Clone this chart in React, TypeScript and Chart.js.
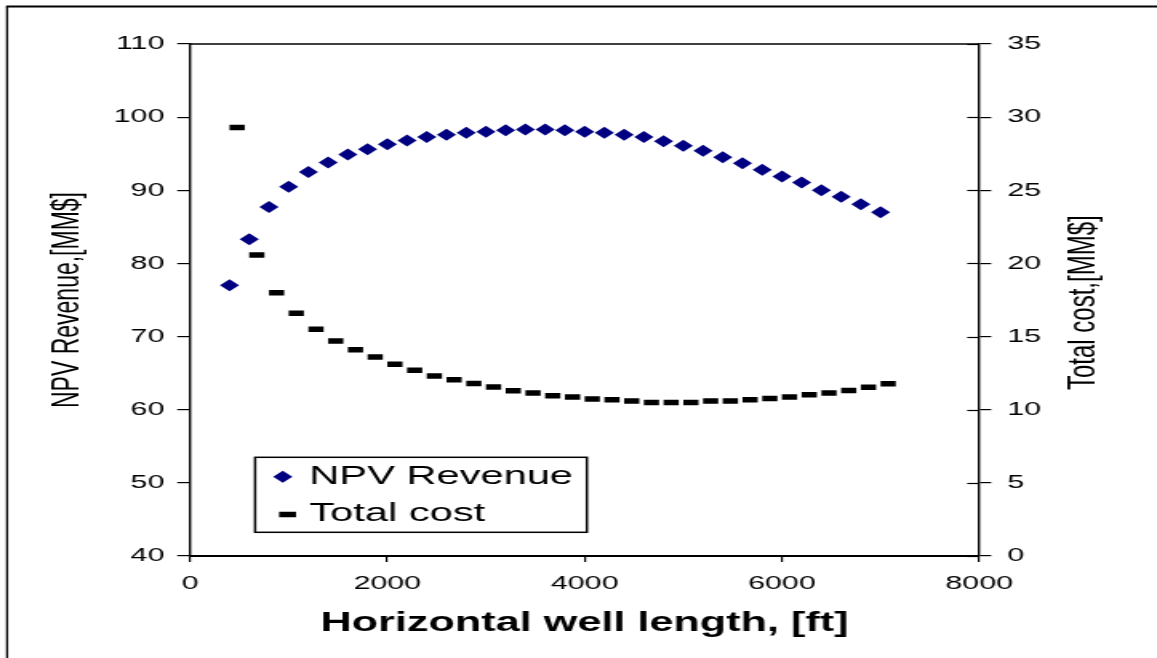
import React, { useEffect, useRef } from 'react';
import { Chart, registerables } from 'chart.js';

Chart.register(...registerables);

// ---- data ----
const lengthFt = [
  400, 600, 800, 1000, 1200, 1400, 1600, 1800, 2000, 2200, 2400, 2600, 2800, 3000, 3200, 3400, 3600,
  3800, 4000, 4200, 4400, 4600, 4800, 5000, 5200, 5400, 5600, 5800, 6000, 6200, 6400, 6600, 6800, 7000,
];
const npvRevenue = [
  77.0, 83.3, 87.7, 90.5, 92.5, 93.8, 94.9, 95.6, 96.3, 96.8, 97.3, 97.6, 97.85, 98.0, 98.2, 98.3, 98.3,
  98.2, 98.0, 97.85, 97.6, 97.3, 96.7, 96.1, 95.4, 94.5, 93.7, 92.8, 91.9, 91.05, 90.0, 89.1, 88.1, 87.0,
];
const totalCost = [
  29.3, 20.57, 18.0, 16.6, 15.5, 14.7, 14.1, 13.6, 13.1, 12.7, 12.3, 12.05, 11.8, 11.55, 11.3, 11.15, 10.96,
  10.87, 10.73, 10.68, 10.6, 10.5, 10.5, 10.5, 10.6, 10.6, 10.68, 10.77, 10.87, 11.03, 11.15, 11.32, 11.53, 11.78,
];
const xTickValues = [0, 2000, 4000, 6000, 8000];
const npvTickValues = [40, 50, 60, 70, 80, 90, 100, 110];
const costTickValues = [0, 5, 10, 15, 20, 25, 30, 35];

const seriesLabels = ['NPV Revenue', 'Total cost'];
const xTitle = 'Horizontal well length, [ft]';
const leftTitle = 'NPV Revenue,[MM$]';
const rightTitle = 'Total cost,[MM$]';

// ---- layout (canvas drawn narrow, then stretched horizontally like the reference) ----
const CSS_W = 1157;
const CSS_H = 658;
const STRETCH = 1.6;
const W = Math.round(CSS_W / STRETCH);
const H = CSS_H;
const FONT = "'Liberation Sans', Arial, sans-serif";

const extrasPlugin = {
  id: 'extras',
  afterDraw(chart: any) {
    const { ctx, chartArea } = chart;
    const { left, right, top } = chartArea;
    ctx.save();
    ctx.strokeStyle = '#000';
    // outer frame (top and left visible)
    ctx.lineWidth = 2;
    ctx.beginPath();
    ctx.moveTo(3.8, 6.5);
    ctx.lineTo(W, 6.5);
    ctx.stroke();
    ctx.lineWidth = 1.3;
    ctx.beginPath();
    ctx.moveTo(4.4, 6.5);
    ctx.lineTo(4.4, H);
    ctx.stroke();
    // top edge of plot area
    ctx.lineWidth = 1.5;
    ctx.beginPath();
    ctx.moveTo(left, top);
    ctx.lineTo(right, top);
    ctx.stroke();
    // inner halves of right-axis ticks
    const y1 = chart.scales.y1;
    ctx.lineWidth = 1.2;
    y1.ticks.forEach((t: any) => {
      const p = Math.round(y1.getPixelForValue(t.value)) + 0.5;
      ctx.beginPath();
      ctx.moveTo(right - 7.5, p);
      ctx.lineTo(right, p);
      ctx.stroke();
    });
    // right axis title (reads bottom to top)
    ctx.fillStyle = '#000';
    ctx.font = `24px ${FONT}`;
    ctx.textAlign = 'center';
    ctx.textBaseline = 'alphabetic';
    ctx.save();
    ctx.translate(684.4, 302.7);
    ctx.rotate(-Math.PI / 2);
    ctx.fillText(rightTitle, 0, 0);
    ctx.restore();

    // legend box
    const ds = chart.data.datasets;
    const bx = 159.4, by = 457.3, bw = 366.7 - 159.4, bh = 532.3 - 457.3;
    ctx.fillStyle = '#fff';
    ctx.fillRect(bx, by, bw, bh);
    ctx.lineWidth = 1.5;
    ctx.strokeStyle = '#000';
    ctx.strokeRect(bx, by, bw, bh);
    // row 1: diamond
    ctx.fillStyle = ds[0].pointBackgroundColor;
    const cx = 176.7, cy = 476.7, r = 6;
    ctx.beginPath();
    ctx.moveTo(cx, cy - r);
    ctx.lineTo(cx + r, cy);
    ctx.lineTo(cx, cy + r);
    ctx.lineTo(cx - r, cy);
    ctx.closePath();
    ctx.fill();
    // row 2: dash
    ctx.strokeStyle = ds[1].pointBorderColor;
    ctx.lineWidth = 5.5;
    ctx.beginPath();
    ctx.moveTo(174.4, 514.5);
    ctx.lineTo(185, 514.5);
    ctx.stroke();
    ctx.fillStyle = '#000';
    ctx.font = `26px ${FONT}`;
    ctx.textAlign = 'left';
    ctx.textBaseline = 'alphabetic';
    ctx.fillText(ds[0].label, 193.3, 484.3);
    ctx.fillText(ds[1].label, 193.3, 521);
    ctx.restore();
  },
};

export default function App() {
  const ref = useRef<HTMLCanvasElement | null>(null);

  useEffect(() => {
    if (!ref.current) return;
    Chart.defaults.font.family = FONT;
    Chart.defaults.color = '#000';
    const tickFont = { family: FONT, size: 19 };
    const chart = new Chart(ref.current, {
      type: 'scatter',
      data: {
        datasets: [
          {
            label: seriesLabels[0],
            data: lengthFt.map((x, i) => ({ x, y: npvRevenue[i] })),
            yAxisID: 'y',
            showLine: false,
            pointStyle: 'rectRot',
            pointRadius: 6,
            pointBackgroundColor: '#000080',
            pointBorderColor: '#000080',
            pointBorderWidth: 0,
          },
          {
            label: seriesLabels[1],
            data: lengthFt.map((x, i) => ({ x, y: totalCost[i] })),
            yAxisID: 'y1',
            showLine: false,
            pointStyle: 'dash',
            pointRadius: 9.5,
            pointBackgroundColor: '#000',
            pointBorderColor: '#000',
            pointBorderWidth: 5.5,
          },
        ],
      },
      options: {
        responsive: false,
        devicePixelRatio: 1,
        animation: false,
        events: [],
        layout: { padding: { left: 0, right: 0, top: 44, bottom: 0 } },
        plugins: { legend: { display: false }, tooltip: { enabled: false } },
        scales: {
          x: {
            type: 'linear',
            position: 'bottom',
            min: 0,
            max: 8000,
            afterBuildTicks: (s: any) => {
              s.ticks = xTickValues.map((v) => ({ value: v }));
            },
            afterFit: (s: any) => {
              s.height = H - 556;
            },
            grid: { drawOnChartArea: false, drawTicks: true, tickLength: 6, color: '#000', lineWidth: 1.2 },
            border: { display: true, color: '#000', width: 2 },
            ticks: {
              font: tickFont,
              color: '#000',
              padding: 10,
              maxRotation: 0,
              autoSkip: false,
              callback: (v: any) => String(v),
            },
            title: {
              display: true,
              text: xTitle,
              color: '#000',
              font: { family: FONT, size: 27, weight: 'bold' },
              padding: { top: 0, bottom: 18 },
            },
          },
          y: {
            type: 'linear',
            position: 'left',
            min: 40,
            max: 110,
            afterBuildTicks: (s: any) => {
              s.ticks = npvTickValues.map((v) => ({ value: v }));
            },
            afterFit: (s: any) => {
              s.width = 118.75;
            },
            grid: { drawOnChartArea: false, drawTicks: true, tickLength: 8, color: '#000', lineWidth: 1.2 },
            border: { display: true, color: '#000', width: 1.4 },
            ticks: { font: tickFont, color: '#000', padding: 8, callback: (v: any) => String(v) },
            title: {
              display: true,
              text: leftTitle,
              color: '#000',
              font: { family: FONT, size: 23 },
              padding: { top: 29.3, bottom: 0 },
            },
          },
          y1: {
            type: 'linear',
            position: 'right',
            min: 0,
            max: 35,
            afterBuildTicks: (s: any) => {
              s.ticks = costTickValues.map((v) => ({ value: v }));
            },
            afterFit: (s: any) => {
              s.width = W - 611.9;
            },
            grid: { drawOnChartArea: false, drawTicks: true, tickLength: 7.5, color: '#000', lineWidth: 1.2 },
            border: { display: true, color: '#000', width: 1.4 },
            ticks: { font: tickFont, color: '#000', padding: 10, callback: (v: any) => String(v) },
          },
        },
      } as any,
      plugins: [extrasPlugin],
    });
    return () => chart.destroy();
  }, []);

  return (
    <div style={{ position: 'absolute', left: 0, top: 0, width: CSS_W, height: CSS_H, background: '#fff' }}>
      <canvas
        ref={ref}
        width={W}
        height={H}
        style={{ width: `${CSS_W}px`, height: `${CSS_H}px`, display: 'block' }}
      />
    </div>
  );
}
